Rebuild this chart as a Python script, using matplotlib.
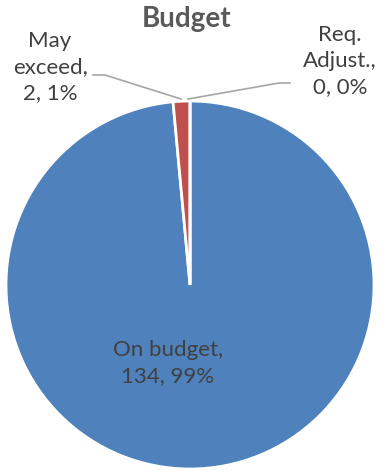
import matplotlib
matplotlib.use("Agg")
import matplotlib.pyplot as plt

categories = ["On budget", "May exceed", "Req. Adjust."]
values = [134, 2, 0]
percents = ["99%", "1%", "0%"]
colors = ["#4F81BD", "#C0504D", "#9BBB59"]
title = "Budget"

W, H = 386, 472
fig = plt.figure(figsize=(W / 100, H / 100), dpi=100)
ax = fig.add_axes([0, 0, 1, 1])

font = ["Lato", "DejaVu Sans"]
cx, cy, r = 190, H - 285, 184
ax.pie(values, colors=colors, startangle=90, counterclock=False,
       center=(cx, cy), radius=r, frame=True,
       wedgeprops=dict(edgecolor="white", linewidth=2))
ax.set_xlim(0, W)
ax.set_ylim(0, H)
ax.axis("off")

tc = "#404040"
ax.text(187, H - 19, title, ha="center", va="center", fontsize=20,
        fontweight="bold", color="#595959", family=font)

fs = 16
ls = 1.38
ax.text(168, H - 363, f"{categories[0]},\n{values[0]}, {percents[0]}",
        ha="center", va="center", fontsize=fs, color=tc, family=font,
        linespacing=ls)
ax.text(50, H - 67, f"May\nexceed,\n{values[1]}, {percents[1]}",
        ha="center", va="center", fontsize=fs, color=tc, family=font,
        linespacing=ls)
ax.text(340, H - 61, f"Req.\nAdjust.,\n{values[2]}, {percents[2]}",
        ha="center", va="center", fontsize=fs, color=tc, family=font,
        linespacing=ls)

lc = "#A6A6A6"
ax.plot([93, 105, 181], [H - 75, H - 75, H - 99], color=lc, lw=1.2)
ax.plot([290, 279, 188], [H - 83, H - 83, H - 99], color=lc, lw=1.2)

fig.savefig("out.png", dpi=100)
